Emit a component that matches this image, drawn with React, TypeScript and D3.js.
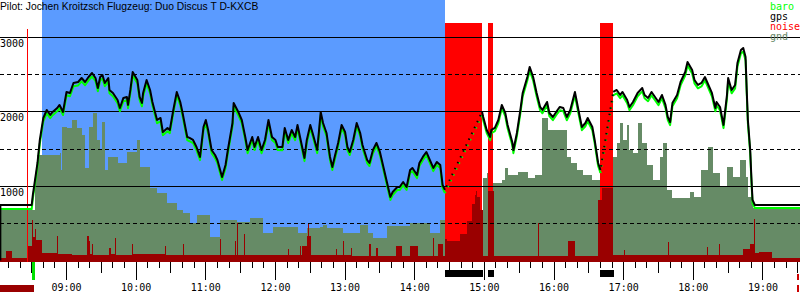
import React from 'react';
import * as d3 from 'd3';

const W = 800;
const H = 300;

const title = 'Pilot: Jochen Kroitzsch Flugzeug: Duo Discus T D-KXCB';
const legendLabels = ['baro', 'gps', 'noise', 'gnd'];
const legendColors = ['#00ff00', '#000000', '#ff0000', '#668866'];

const hourLabels = ['09:00', '10:00', '11:00', '12:00', '13:00', '14:00', '15:00', '16:00', '17:00', '18:00', '19:00'];
const altSolid = [1000, 2000, 3000];
const altDashed = [500, 1500, 2500];

const blueStart = '08:39';
const blueEnd = '14:26';
const releaseMark = '08:26';
const takeoffTime = '08:31';
const endMark = '19:30';
const motorStart = ['14:26', '15:03', '16:40'];
const motorEnd = ['14:58', '15:07', '16:51'];

const flightTimes = [
  '08:03', '08:03', '08:30', '08:31', '08:35', '08:37', '08:40', '08:43', '08:46', '08:48', '08:52', '08:54', '08:57',
  '09:00', '09:03', '09:06', '09:10', '09:13', '09:16', '09:19', '09:22', '09:25', '09:27', '09:29', '09:31', '09:33',
  '09:36', '09:37', '09:40', '09:44', '09:46', '09:49', '09:52', '09:53', '09:55', '09:57', '10:01', '10:03', '10:05',
  '10:06', '10:09', '10:12', '10:14', '10:18', '10:21', '10:23', '10:27', '10:29', '10:32', '10:35', '10:38', '10:40',
  '10:44', '10:46', '10:49', '10:52', '10:55', '10:58', '11:00', '11:02', '11:05', '11:08', '11:10', '11:14', '11:17',
  '11:19', '11:23', '11:24', '11:28', '11:31', '11:34', '11:36', '11:40', '11:42', '11:45', '11:48', '11:51', '11:54',
  '11:57', '12:00', '12:02', '12:06', '12:08', '12:11', '12:14', '12:17', '12:19', '12:23', '12:25', '12:27', '12:30',
  '12:32', '12:36', '12:39', '12:41', '12:44', '12:47', '12:49', '12:51', '12:54', '12:57', '13:00', '13:02', '13:04',
  '13:07', '13:10', '13:13', '13:15', '13:19', '13:21', '13:24', '13:27', '13:30', '13:33', '13:36', '13:39', '13:41',
  '13:45', '13:47', '13:50', '13:53', '13:56', '13:58', '14:02', '14:04', '14:07', '14:10', '14:13', '14:16', '14:19',
  '14:22', '14:24', '14:26', '14:58', '14:59', '15:02', '15:05', '15:06', '15:09', '15:12', '15:15', '15:18', '15:20',
  '15:24', '15:25', '15:28', '15:31', '15:33', '15:37', '15:39', '15:42', '15:45', '15:48', '15:50', '15:54', '15:56',
  '15:59', '16:03', '16:05', '16:08', '16:11', '16:14', '16:18', '16:21', '16:24', '16:27', '16:29', '16:33', '16:35',
  '16:38', '16:40', '16:51', '16:54', '16:57', '16:59', '17:03', '17:05', '17:08', '17:12', '17:16', '17:18', '17:21',
  '17:24', '17:27', '17:30', '17:33', '17:36', '17:38', '17:40', '17:42', '17:46', '17:49', '17:53', '17:55', '17:59',
  '18:01', '18:04', '18:07', '18:10', '18:13', '18:16', '18:19', '18:20', '18:23', '18:26', '18:29', '18:30', '18:33',
  '18:36', '18:38', '18:41', '18:43', '18:45', '18:46', '18:47', '18:49', '18:50', '18:51', '18:53', '19:32',
];

const gpsAlt = [
  0, 745, 745, 880, 1309, 1618, 1913, 2020, 1953, 1994, 2047, 2088, 1994,
  2262, 2249, 2383, 2396, 2450, 2396, 2463, 2517, 2450, 2316, 2463, 2490, 2383,
  2450, 2289, 2249, 2155, 2047, 2182, 2195, 2088, 2289, 2530, 2423, 2195, 2114,
  2249, 2423, 2289, 2128, 1886, 1913, 1725, 1779, 1752, 2020, 2262, 2128, 1980,
  1658, 1645, 1618, 1524, 1390, 1792, 1886, 1752, 1483, 1416, 1349, 1121, 1282,
  1483, 1846, 2114, 1994, 1886, 1658, 1483, 1658, 1524, 1658, 1483, 1618, 1886,
  1658, 1618, 1524, 1524, 1779, 1618, 1752, 1658, 1819, 1524, 1376, 1618, 1819,
  1712, 1483, 1994, 1846, 1712, 1390, 1255, 1390, 1578, 1819, 1725, 1524, 1457,
  1618, 1846, 1712, 1551, 1349, 1309, 1483, 1578, 1457, 1255, 1054, 853, 920,
  987, 987, 1054, 987, 1215, 1242, 1148, 1309, 1390, 1457, 1349, 1242, 1323,
  1282, 1014, 947, 1994, 1926, 1752, 1658, 1752, 1779, 1886, 2088, 1980, 1819,
  1591, 1483, 1712, 2020, 2249, 2463, 2598, 2463, 2249, 2061, 2020, 2128, 1980,
  1926, 2020, 2061, 2047, 1926, 2020, 2262, 2020, 1792, 1846, 1913, 1792, 1618,
  1309, 1215, 2262, 2289, 2222, 2262, 2155, 2061, 2128, 2249, 2316, 2222, 2182,
  2262, 2195, 2128, 2222, 2088, 1926, 1859, 2114, 2222, 2396, 2530, 2665, 2557,
  2423, 2356, 2383, 2463, 2356, 2249, 2047, 2128, 2061, 1819, 2222, 2450, 2289,
  2356, 2651, 2826, 2853, 2732, 2289, 1886, 1483, 1121, 813, 745, 745,
];

const baroAlt = [
  690, 690, 690, 830, 1262, 1570, 1868, 1975, 1910, 1950, 2003, 2042, 1952,
  2218, 2205, 2338, 2350, 2405, 2352, 2417, 2470, 2406, 2272, 2418, 2443, 2340,
  2404, 2246, 2205, 2110, 2004, 2138, 2150, 2045, 2244, 2482, 2378, 2152, 2070,
  2203, 2377, 2245, 2085, 1843, 1868, 1683, 1735, 1710, 1975, 2216, 2084, 1937,
  1616, 1601, 1575, 1482, 1347, 1748, 1840, 1709, 1441, 1373, 1307, 1080, 1240,
  1440, 1801, 2068, 1950, 1843, 1616, 1441, 1614, 1482, 1615, 1440, 1575, 1842,
  1616, 1576, 1482, 1481, 1735, 1576, 1709, 1615, 1775, 1482, 1334, 1574, 1776,
  1670, 1441, 1948, 1803, 1670, 1348, 1214, 1347, 1535, 1775, 1683, 1482, 1415,
  1575, 1802, 1670, 1509, 1308, 1268, 1440, 1535, 1415, 1214, 1013, 812, 879,
  946, 945, 1012, 946, 1173, 1200, 1106, 1267, 1347, 1414, 1307, 1200, 1281,
  1240, 973, 905, 1950, 1883, 1710, 1616, 1708, 1736, 1842, 2043, 1937, 1776,
  1549, 1441, 1669, 1975, 2203, 2416, 2550, 2417, 2204, 2017, 1976, 2083, 1937,
  1883, 1976, 2016, 2003, 1883, 1975, 2216, 1976, 1749, 1802, 1868, 1749, 1576,
  1268, 1174, 2217, 2243, 2178, 2216, 2111, 2018, 2084, 2204, 2270, 2178, 2138,
  2217, 2151, 2085, 2177, 2045, 1884, 1817, 2069, 2177, 2350, 2483, 2617, 2511,
  2378, 2311, 2337, 2417, 2312, 2204, 2004, 2083, 2017, 1777, 2176, 2403, 2244,
  2310, 2603, 2777, 2805, 2686, 2245, 1843, 1441, 1080, 772, 705, 705,
];

const gndTimes = [
  '08:03', '08:31', '08:33', '08:35', '08:54', '08:55', '08:56', '09:00', '09:05', '09:09', '09:13', '09:16', '09:19',
  '09:23', '09:26', '09:29', '09:31', '09:33', '09:36', '09:44', '09:52', '10:01', '10:03', '10:12', '10:18', '10:27',
  '10:35', '10:40', '10:46', '10:52', '11:04', '11:12', '11:27', '11:38', '11:49', '11:58', '12:19', '12:27', '12:38',
  '12:41', '12:44', '12:58', '13:13', '13:20', '13:24', '13:36', '13:56', '14:13', '14:22', '14:26', '14:59', '15:02',
  '15:06', '15:15', '15:18', '15:20', '15:29', '15:38', '15:44', '15:50', '15:55', '16:11', '16:15', '16:20', '16:25',
  '16:33', '16:40', '16:51', '16:54', '16:57', '16:59', '17:03', '17:05', '17:08', '17:12', '17:16', '17:20', '17:25',
  '17:31', '17:34', '17:37', '17:42', '17:57', '18:01', '18:07', '18:13', '18:17', '18:23', '18:29', '18:34', '18:40',
  '18:45', '18:47', '18:51', '19:32',
];
const gndAlt = [
  678, 678, 1175, 1416, 1443, 1215, 1792, 1779, 1886, 1779, 1685, 1242, 1792,
  1980, 1618, 1483, 1859, 1215, 1390, 1309, 1457, 1618, 1255, 974, 906, 772,
  678, 638, 504, 611, 316, 544, 517, 571, 370, 450, 370, 437, 450,
  477, 437, 370, 477, 370, 302, 463, 504, 370, 544, 477, 1108, 1175,
  1041, 1081, 1242, 1148, 1188, 1108, 1148, 1913, 1752, 1390, 1309, 1215, 1148,
  1081, 1014, 1390, 1578, 1846, 1618, 1819, 1483, 1443, 1846, 1578, 1282, 1081,
  1390, 1578, 947, 839, 920, 853, 1215, 1524, 1175, 987, 1255, 1121, 1349,
  1121, 853, 705, 705,
];

const noiseTimes = [
  '08:03', '08:08', '08:13', '08:26', '08:30', '08:31', '08:33', '08:34', '08:39', '08:52', '08:53', '09:05', '09:18',
  '09:19', '09:20', '09:22', '09:23', '09:37', '09:38', '09:42', '09:43', '09:56', '09:57', '10:25', '10:26', '10:40',
  '10:41', '11:12', '11:13', '11:25', '11:26', '11:27', '11:28', '11:33', '11:34', '12:11', '12:12', '12:21', '12:22',
  '12:23', '12:27', '12:28', '12:29', '12:31', '12:52', '12:53', '12:58', '12:59', '13:05', '13:06', '13:21', '13:22',
  '13:27', '13:28', '13:44', '13:49', '13:56', '14:03', '14:16', '14:17', '14:20', '14:24', '14:26', '14:28', '14:39',
  '14:45', '14:49', '14:52', '14:53', '14:54', '14:56', '14:59', '15:03', '15:08', '15:46', '15:47', '16:12', '16:18',
  '16:38', '16:41', '16:51', '17:00', '17:01', '17:38', '17:39', '18:12', '18:13', '18:22', '18:23', '18:43', '18:49',
  '18:52', '18:53', '18:57', '19:08', '19:32',
];
const noiseVal = [
  18, 50, 18, 71, 188, 110, 147, 100, 40, 116, 36, 31, 116,
  94, 36, 80, 31, 62, 36, 107, 31, 80, 36, 71, 33, 80,
  33, 103, 31, 94, 31, 174, 31, 125, 31, 58, 31, 71, 31,
  71, 116, 174, 116, 31, 58, 31, 94, 31, 62, 27, 80, 27,
  62, 27, 71, 27, 71, 27, 107, 27, 80, 27, 103, 94, 125,
  183, 259, 300, 317, 290, 230, 27, 317, 27, 174, 27, 94, 27,
  277, 330, 31, 54, 31, 89, 31, 67, 31, 80, 31, 58, 80,
  192, 40, 45, 18, 18,
];

const toMin = (s: string) => {
  const [h, m] = s.split(':').map(Number);
  return h * 60 + m;
};

export default function App() {
  const x = d3.scaleLinear().domain([482.7, 1171.9]).range([0, W]);
  const y = d3.scaleLinear().domain([0, 3000]).range([260.5, 37]);
  const yNoise = d3.scaleLinear().domain([0, 1000]).range([262, 38]);
  const base = 262;
  const mono = 'DejaVu Sans Mono, monospace';

  const flight = flightTimes.map((t, i) => ({ t: toMin(t), gps: gpsAlt[i], baro: baroAlt[i] }));
  const gnd = gndTimes.map((t, i) => ({ t: toMin(t), v: gndAlt[i] }));
  const noise = noiseTimes.map((t, i) => ({ t: toMin(t), v: noiseVal[i] }));
  const motors = motorStart.map((s, i) => ({ s: toMin(s), e: toMin(motorEnd[i]) }));

  const inMotor = (a: number, b: number) => motors.some((m) => a >= m.s && b <= m.e && b - a > 3);

  const solid: typeof flight[] = [];
  const dotted: typeof flight[] = [];
  let cur: typeof flight = [flight[0]];
  for (let i = 1; i < flight.length; i++) {
    const a = flight[i - 1];
    const b = flight[i];
    if (inMotor(a.t, b.t)) {
      solid.push(cur);
      dotted.push([a, b]);
      cur = [b];
    } else {
      cur.push(b);
    }
  }
  solid.push(cur);

  const gpsLine = d3.line<any>().x((d) => x(d.t)).y((d) => y(d.gps));
  const baroLine = d3.line<any>().x((d) => x(d.t)).y((d) => y(d.baro));

  const gndArea = d3
    .area<any>()
    .x((d) => x(d.t))
    .y0(base)
    .y1((d) => y(d.v))
    .curve(d3.curveStepAfter);
  const noiseArea = d3
    .area<any>()
    .x((d) => x(d.t))
    .y0(base)
    .y1((d) => yNoise(d.v))
    .curve(d3.curveStepAfter);

  const gridY = (v: number) => Math.floor(y(v) + 0.3) + 0.5;

  const ticks: { x: number; len: number }[] = [];
  for (let m = 490; m <= 1170; m += 10) {
    const len = m % 60 === 0 ? 18 : m % 30 === 0 ? 11 : 6;
    ticks.push({ x: Math.floor(x(m)) + 0.5, len });
  }

  return (
    <svg
      width={W}
      height={H}
      style={{ position: 'fixed', left: 0, top: 0, background: '#ffffff', display: 'block' }}
    >
      <defs>
        <clipPath id="plot">
          <rect x={0} y={0} width={W} height={base} />
        </clipPath>
      </defs>
      <rect x={0} y={0} width={W} height={H} fill="#ffffff" />
      <g clipPath="url(#plot)">
        <rect
          x={x(toMin(blueStart))}
          y={0}
          width={x(toMin(blueEnd)) - x(toMin(blueStart))}
          height={base}
          fill="#5b9bff"
          shapeRendering="crispEdges"
        />
        <path d={gndArea(gnd) || ''} fill="#668b66" shapeRendering="crispEdges" />
        {motors.map((m, i) => (
          <rect
            key={'m' + i}
            x={x(m.s)}
            y={23}
            width={x(m.e) - x(m.s)}
            height={base - 23}
            fill="#ff0000"
            shapeRendering="crispEdges"
          />
        ))}
        <path d={noiseArea(noise) || ''} fill="#9a0000" shapeRendering="crispEdges" />
        {altSolid.map((v) => (
          <line key={'s' + v} x1={0} x2={W} y1={gridY(v)} y2={gridY(v)} stroke="#000" strokeWidth={1} shapeRendering="crispEdges" />
        ))}
        {altDashed.map((v) => (
          <line
            key={'d' + v}
            x1={0}
            x2={W}
            y1={gridY(v)}
            y2={gridY(v)}
            stroke="#000"
            strokeWidth={1}
            strokeDasharray="4,3"
            shapeRendering="crispEdges"
          />
        ))}
        <line
          x1={Math.floor(x(toMin(releaseMark))) + 0.5}
          x2={Math.floor(x(toMin(releaseMark))) + 0.5}
          y1={29}
          y2={base}
          stroke="#ff0000"
          strokeWidth={1}
          shapeRendering="crispEdges"
        />
        {solid.map((seg, i) => (
          <path key={'bs' + i} d={baroLine(seg) || ''} fill="none" stroke="#00ff00" strokeWidth={2} strokeLinejoin="round" />
        ))}
        {dotted.map((seg, i) => (
          <path key={'bd' + i} d={baroLine(seg) || ''} fill="none" stroke="#00ff00" strokeWidth={2} strokeDasharray="1.5,5" />
        ))}
        {solid.map((seg, i) => (
          <path key={'gs' + i} d={gpsLine(seg) || ''} fill="none" stroke="#000000" strokeWidth={2} strokeLinejoin="round" />
        ))}
        {dotted.map((seg, i) => (
          <path key={'gd' + i} d={gpsLine(seg) || ''} fill="none" stroke="#000000" strokeWidth={2} strokeDasharray="1.5,5" strokeDashoffset={3} />
        ))}
      </g>

      {ticks.map((tk, i) => (
        <line key={'t' + i} x1={tk.x} x2={tk.x} y1={base} y2={base + tk.len} stroke="#000" strokeWidth={1} shapeRendering="crispEdges" />
      ))}
      {motors.map((m, i) => (
        <rect key={'mb' + i} x={x(m.s)} y={270} width={x(m.e) - x(m.s) + 1} height={7} fill="#000" shapeRendering="crispEdges" />
      ))}
      <rect x={x(toMin(takeoffTime)) - 1} y={base} width={3} height={18} fill="#00e000" shapeRendering="crispEdges" />
      <rect x={0} y={285} width={x(toMin(takeoffTime)) + 1} height={7} fill="#9a0000" shapeRendering="crispEdges" />
      <rect x={Math.floor(x(toMin(endMark)))} y={274} width={2} height={6} fill="#cc0000" shapeRendering="crispEdges" />
      <rect x={Math.floor(x(toMin(endMark)))} y={285} width={2} height={7} fill="#cc0000" shapeRendering="crispEdges" />
      {hourLabels.map((h) => (
        <text key={h} x={x(toMin(h))} y={291} textAnchor="middle" fontFamily={mono} fontSize={10} fill="#000">
          {h}
        </text>
      ))}

      {altSolid.map((v) => (
        <text key={'l' + v} x={0} y={gridY(v) + 9.5} fontFamily={mono} fontSize={10} fill="#000">
          {v}
        </text>
      ))}

      <text x={0} y={10} fontFamily="Liberation Sans, Arial, sans-serif" fontSize={10.3} fill="#000">
        {title}
      </text>
      {legendLabels.map((l, i) => (
        <text key={l} x={770} y={10 + i * 10} fontFamily={mono} fontSize={10} fill={legendColors[i]}>
          {l}
        </text>
      ))}
    </svg>
  );
}
